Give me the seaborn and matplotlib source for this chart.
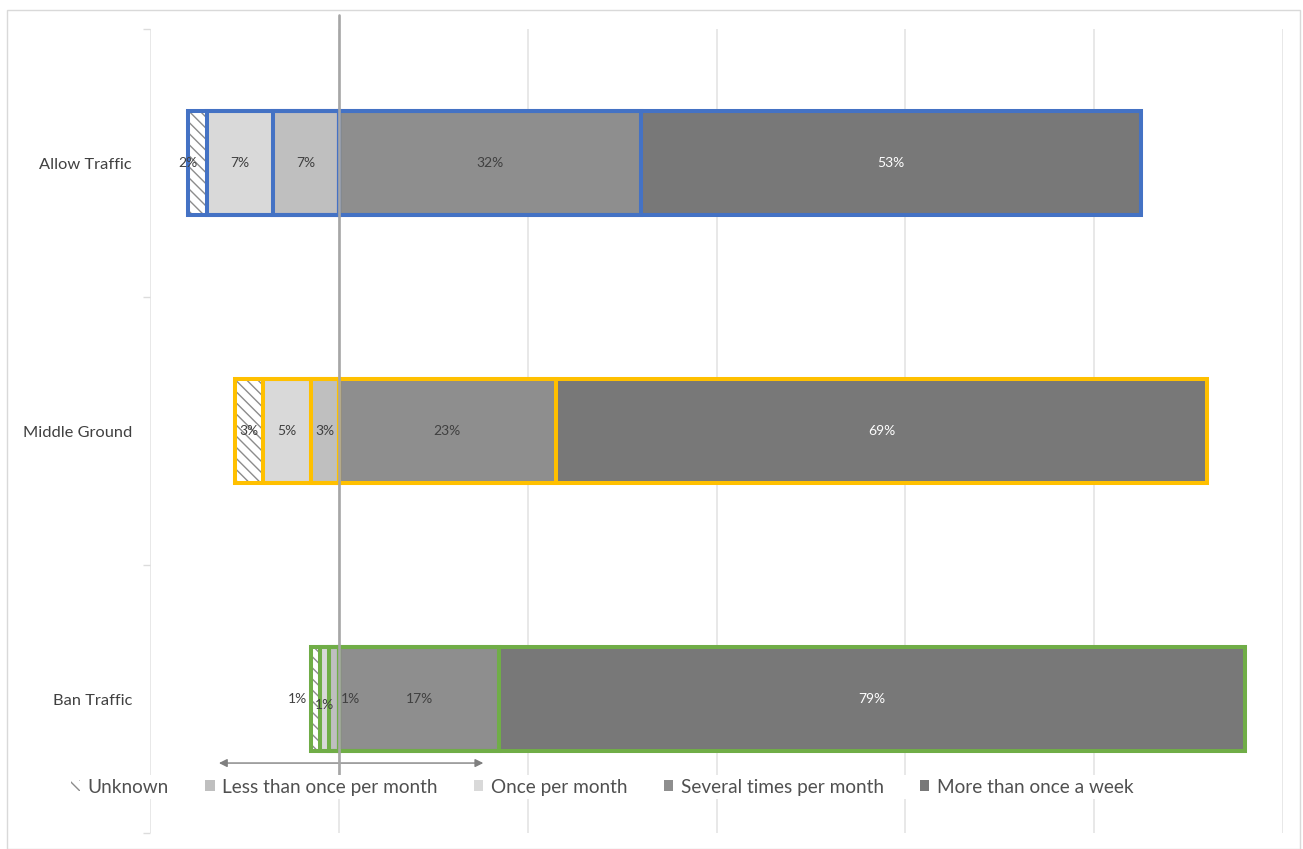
import numpy as np
import pandas as pd
import matplotlib
matplotlib.use("Agg")
import matplotlib.pyplot as plt
import seaborn as sns
from matplotlib.patches import Patch, Rectangle

# Survey responses (percent of respondents) by policy preference
categories = ["Allow Traffic", "Middle Ground", "Ban Traffic"]
unknown = [2, 3, 1]
less_than_monthly = [7, 3, 1]
once_per_month = [7, 5, 1]
several_per_month = [32, 23, 17]
more_than_weekly = [53, 69, 79]

series_names = [
    "Unknown",
    "Less than once per month",
    "Once per month",
    "Several times per month",
    "More than once a week",
]
x_ticks = [-20, 0, 20, 40, 60, 80, 100]

fills = {
    "Unknown": "white",
    "Less than once per month": "#bfbfbf",
    "Once per month": "#d9d9d9",
    "Several times per month": "#8e8e8e",
    "More than once a week": "#787878",
}
edge_colors = ["#4472c4", "#ffc000", "#70ad47"]
hatch = "\\\\\\"
hatch_color = "#8c8c8c"

sns.set_theme(style="white")
plt.rcParams["font.family"] = ["Lato", "DejaVu Sans"]
plt.rcParams["hatch.linewidth"] = 1.0

fig = plt.figure(figsize=(13.03, 8.49), dpi=100)
ax = fig.add_axes([150 / 1303, 1 - 833 / 849, 1133 / 1303, 804 / 849])

unk = np.array(unknown)
less = np.array(less_than_monthly)
once = np.array(once_per_month)
sev = np.array(several_per_month)
more = np.array(more_than_weekly)

df = pd.DataFrame({
    "category": categories,
    "neg_less": -less,
    "neg_once": -(less + once),
    "neg_unknown": -(less + once + unk),
    "pos_several": sev,
    "pos_more": sev + more,
})

BAR_W = 0.39

# Filled layers, outermost first so inner layers sit on top
layers = [
    ("neg_unknown", "Unknown"),
    ("neg_once", "Once per month"),
    ("neg_less", "Less than once per month"),
    ("pos_more", "More than once a week"),
    ("pos_several", "Several times per month"),
]
for col, name in layers:
    kw = dict(color=fills[name], width=BAR_W, linewidth=0, saturation=1,
              orient="h", errorbar=None, ax=ax)
    if name == "Unknown":
        kw.update(hatch=hatch, edgecolor=hatch_color)
    sns.barplot(data=df, x=col, y="category", **kw)

# Coloured outlines per preference group, one per cumulative boundary
for col, _ in layers:
    sns.barplot(data=df, x=col, y="category", hue="category",
                palette=edge_colors, fill=False, width=BAR_W, linewidth=2.9,
                saturation=1, legend=False, errorbar=None, orient="h", ax=ax)

ax.set_xlim(-20, 100)
ax.set_ylim(2.5, -0.5)
ax.set_xticks(x_ticks)
ax.xaxis.grid(True, color="#e4e4e4", lw=1.2)
ax.yaxis.grid(False)
ax.set_axisbelow(True)
ax.tick_params(axis="x", length=0, labelbottom=False)
ax.tick_params(axis="y", length=0, pad=13, labelsize=11.8, labelcolor="#404040")
ax.set_yticks([-0.5, 0.5, 1.5, 2.5], minor=True)
ax.tick_params(axis="y", which="minor", left=True, length=5, width=1, color="#dcdcdc")
ax.set_xlabel("")
ax.set_ylabel("")
for s in ax.spines.values():
    s.set_visible(False)

# Zero reference line
ax.axvline(0, ymin=0.068, ymax=1.017, color="#a6a6a6", lw=1.9, clip_on=False, zorder=6)

# Value labels at segment centres
nudges = {
    ("Allow Traffic", "Unknown"): (-7, 0),
    ("Ban Traffic", "Unknown"): (-13, 0),
    ("Ban Traffic", "Once per month"): (0, -4),
    ("Ban Traffic", "Less than once per month"): (12, 0),
}
for i, cat in enumerate(categories):
    segs = [
        ("Unknown", -(less[i] + once[i] + unk[i]), -(less[i] + once[i]), unk[i]),
        ("Once per month", -(less[i] + once[i]), -less[i], once[i]),
        ("Less than once per month", -less[i], 0, less[i]),
        ("Several times per month", 0, sev[i], sev[i]),
        ("More than once a week", sev[i], sev[i] + more[i], more[i]),
    ]
    for name, a, b, v in segs:
        dx, dy = nudges.get((cat, name), (0, 0))
        col = "white" if name == "More than once a week" else "#404040"
        ax.annotate(f"{v}%", xy=((a + b) / 2, i), xytext=(dx, dy),
                    textcoords="offset points", ha="center", va="center",
                    fontsize=10, color=col, zorder=7)

# Double-headed guide arrow under the bars
ax.annotate("", xy=(-12.7, 0.087), xytext=(15.3, 0.087),
            xycoords=ax.get_xaxis_transform(),
            arrowprops=dict(arrowstyle="<|-|>", color="#7f7f7f", lw=1,
                            mutation_scale=12, shrinkA=0, shrinkB=0))

# Legend
handles = []
for name in series_names:
    if name == "Unknown":
        handles.append(Patch(facecolor="white", edgecolor=hatch_color, hatch=hatch, lw=0))
    else:
        handles.append(Patch(facecolor=fills[name], edgecolor="none"))
leg = ax.legend(handles, series_names, loc="center", bbox_to_anchor=(0.399, 0.057),
                ncol=5, frameon=True, facecolor="white", edgecolor="none",
                framealpha=1, fontsize=13.7, handlelength=0.5, handleheight=0.5,
                handletextpad=0.4, columnspacing=1.9, borderpad=0.2,
                labelcolor="#505050")
leg.set_zorder(8)

# Outer chart frame
fig.add_artist(Rectangle((7 / 1303, 0.0), 1293 / 1303, 1 - 10 / 849,
                         transform=fig.transFigure, fill=False,
                         edgecolor="#d9d9d9", lw=1))

fig.savefig("out.png", dpi=100)
